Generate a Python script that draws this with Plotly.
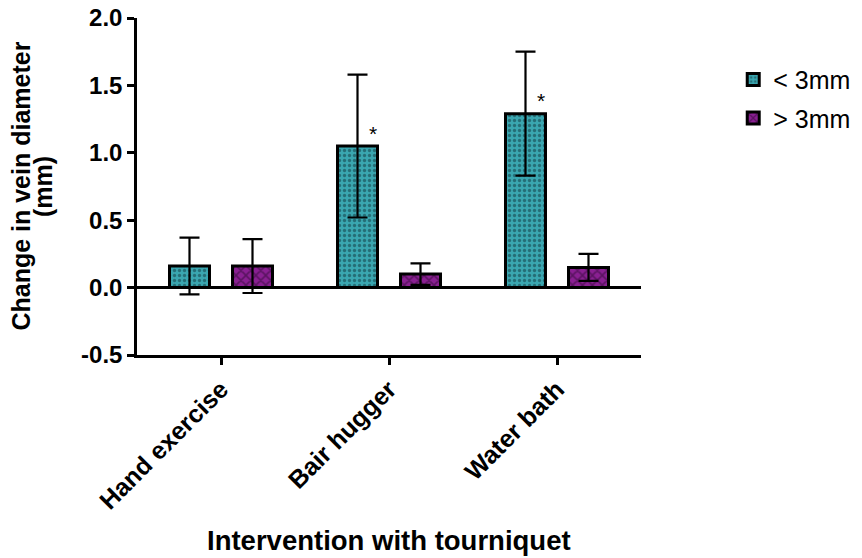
import plotly.graph_objects as go

categories = ["Hand exercise", "Bair hugger", "Water bath"]
series_names = ["< 3mm", "> 3mm"]
small_vals = [0.16, 1.05, 1.29]
small_err = [0.21, 0.53, 0.46]
large_vals = [0.16, 0.10, 0.15]
large_err = [0.20, 0.08, 0.10]
y_ticks = [-0.5, 0.0, 0.5, 1.0, 1.5, 2.0]
y_tick_labels = ["-0.5", "0.0", "0.5", "1.0", "1.5", "2.0"]
star_groups = [1, 2]
x_title = "Intervention with tourniquet"
y_title_lines = ["Change in vein diameter", "(mm)"]

FONT = "Liberation Sans, Arial, sans-serif"

fig = go.Figure()
fig.add_trace(go.Bar(
    name=series_names[0], x=categories, y=small_vals, legendgroup="a",
    error_y=dict(type="data", array=small_err, visible=True, color="black", thickness=2.2, width=10),
    marker=dict(color="#3aa6b0", line=dict(color="black", width=3),
                pattern=dict(shape=".", fgcolor="#10363d", bgcolor="#3aa6b0", size=5, solidity=0.35)),
))
fig.add_trace(go.Bar(
    name=series_names[1], x=categories, y=large_vals, legendgroup="b",
    error_y=dict(type="data", array=large_err, visible=True, color="black", thickness=2.2, width=10),
    marker=dict(color="#8a1f92", line=dict(color="black", width=3),
                pattern=dict(shape="x", fgcolor="#2a0830", bgcolor="#8a1f92", size=7, solidity=0.4)),
))

for g in star_groups:
    fig.add_annotation(x=g - 0.095, y=small_vals[g] + 0.095, text="*", showarrow=False,
                       font=dict(family=FONT, size=21, color="black"), xref="x", yref="y")

# axis titles
fig.add_annotation(text="<b>" + x_title + "</b>", xref="paper", yref="paper",
                   x=0.5, y=-0.549, yanchor="middle", showarrow=False,
                   font=dict(family=FONT, size=27.5, color="black"))
for xp, line in zip([-0.232, -0.1875], y_title_lines):
    fig.add_annotation(text="<b>" + line + "</b>", xref="paper", yref="paper",
                       x=xp, y=0.5, xanchor="center", yanchor="middle", textangle=-90,
                       showarrow=False, font=dict(family=FONT, size=25, color="black"))

fig.update_layout(
    width=862, height=558,
    margin=dict(l=129, r=229, t=10, b=211, autoexpand=False),
    paper_bgcolor="white", plot_bgcolor="white",
    barmode="group", bargap=0.25, bargroupgap=0.365,
    font=dict(family=FONT, color="black"),
    legend=dict(x=1.183, y=0.885, xanchor="left", yanchor="top",
                font=dict(family=FONT, size=25, color="black"),
                itemwidth=30, traceorder="grouped", tracegroupgap=3,
                bgcolor="rgba(0,0,0,0)"),
    showlegend=True,
)
fig.update_xaxes(
    range=[-0.5, 2.5], showline=True, linecolor="black", linewidth=2.5,
    ticks="outside", ticklen=7, tickwidth=2.5, tickcolor="black",
    tickangle=-45, tickfont=dict(family=FONT, size=25, color="black", weight="bold"),
    showgrid=False, zeroline=False, automargin=False, ticklabeloverflow="allow",
)
fig.update_yaxes(
    range=[-0.5, 2.0], tickvals=y_ticks, ticktext=y_tick_labels,
    showline=True, linecolor="black", linewidth=2.5,
    ticks="outside", ticklen=7, tickwidth=2.5, tickcolor="black",
    tickfont=dict(family=FONT, size=24, color="black", weight="bold"),
    showgrid=False, zeroline=True, zerolinecolor="black", zerolinewidth=2.5,
    automargin=False, ticklabeloverflow="allow",
)

fig.write_html("out.html")
